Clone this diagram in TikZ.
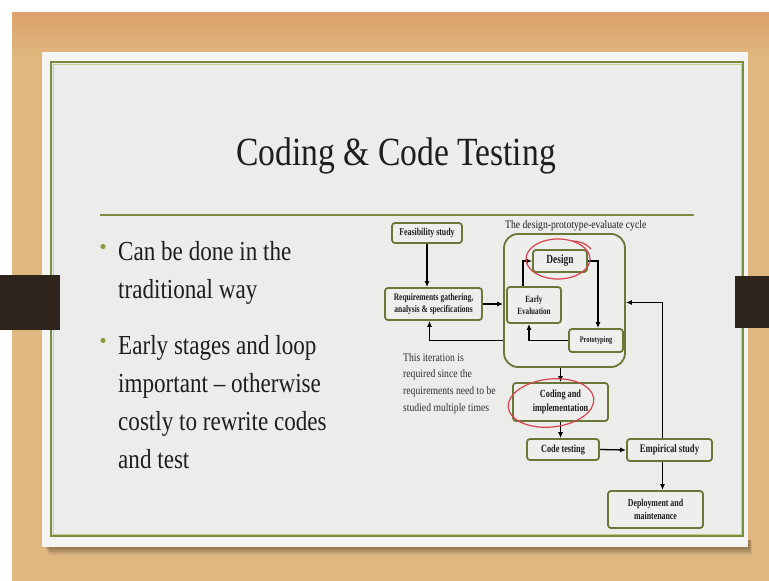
\documentclass[tikz,border=0pt]{standalone}
\usepackage{fontspec}
\setmainfont{Liberation Serif}
\newfontfamily\slidefont[FakeStretch=0.84]{Liberation Serif}
\newfontfamily\boxfont[FakeStretch=0.75]{Liberation Serif}
\usetikzlibrary{arrows.meta,calc}

\definecolor{wood}{RGB}{224,184,127}
\definecolor{woodtop}{RGB}{219,163,107}
\definecolor{slideedge}{RGB}{244,244,243}
\definecolor{slidebg}{RGB}{236,236,234}
\definecolor{frameolive}{RGB}{122,140,62}
\definecolor{framelight}{RGB}{196,208,140}
\definecolor{tabbrown}{RGB}{46,36,28}
\definecolor{boxolive}{RGB}{106,120,55}
\definecolor{boxfill}{RGB}{238,238,236}
\definecolor{inktext}{RGB}{30,30,30}
\definecolor{bulletgreen}{RGB}{132,158,62}
\definecolor{redpen}{RGB}{214,66,78}

\tikzset{
  box/.style={draw=boxolive, line width=1.8pt, rounded corners=3pt, fill=boxfill,
    inner sep=0pt, align=center, text=inktext},
  boxtxt/.style 2 args={font={\boxfont\bfseries\fontsize{#1}{#2}\selectfont}},
  cyclebox/.style={draw=boxolive, line width=1.8pt, rounded corners=14pt, fill=boxfill,
    inner sep=0pt},
  arr/.style={draw=black, line width=1.3pt, -{Latex[length=6pt,width=5pt]}},
  bullettext/.style={anchor=base west, inner sep=0pt, text=inktext,
    font={\slidefont\fontsize{27.5}{38}\selectfont}},
  notetext/.style={anchor=base west, inner sep=0pt, text=inktext!92,
    font={\slidefont\fontsize{11.5}{16}\selectfont}},
  pen/.style={draw=redpen, line width=1.2pt}
}

\begin{document}
\begin{tikzpicture}[x=1pt,y=-1pt]
\useasboundingbox (0,0) rectangle (769,581);

% wooden desk behind the slide
\fill[white] (0,0) rectangle (769,581);
\fill[wood] (12,12) rectangle (769,581);
\shade[top color=woodtop, bottom color=wood] (12,12) rectangle (769,60);

% soft shadow under the slide
\foreach \i in {1,...,5}
  \fill[black, opacity=0.07] (44+\i,540) rectangle (749+0.6*\i,547+1.6*\i);

% slide face and its double frame
\fill[slideedge] (42,52) rectangle (748,547);
\fill[slidebg] (51,62) rectangle (743,536);
\draw[frameolive, line width=2pt] (51,62) rectangle (743,536);
\draw[framelight, line width=0.7pt] (53,64) rectangle (741,534);

% binder clips on the sides
\fill[tabbrown] (0,275) rectangle (60,330);
\fill[tabbrown] (735,276) rectangle (769,328);

% title and rule
\node[anchor=base, inner sep=0pt, text=inktext,
      font={\slidefont\fontsize{40}{44}\selectfont}] (title) at (396,165) {Coding \& Code Testing};
\draw[frameolive, line width=1.3pt] (100,215) -- (694,215);

% bullet list
\fill[bulletgreen] (103,246.5) circle (2.6);
\node[bullettext] (b1a) at (118,260) {Can be done in the};
\node[bullettext] (b1b) at (118,298) {traditional way};
\fill[bulletgreen] (103,340.5) circle (2.6);
\node[bullettext] (b2a) at (118,354) {Early stages and loop};
\node[bullettext] (b2b) at (118,392) {important – otherwise};
\node[bullettext] (b2c) at (118,430) {costly to rewrite codes};
\node[bullettext] (b2d) at (118,468) {and test};

% process diagram
\node[anchor=base west, inner sep=0pt, text=inktext,
      font={\slidefont\fontsize{11.5}{13}\selectfont}] (cyclelabel) at (505,228)
      {The design-prototype-evaluate cycle};
\node[cyclebox, minimum width=121, minimum height=133] (cycle) at (564.5,300.5) {};

\node[box, boxtxt={10.5}{12}, minimum width=70, minimum height=20] (feas) at (427,233) {Feasibility study};
\node[box, boxtxt={10}{11.5}, minimum width=97, minimum height=32] (req) at (433.5,304)
  {Requirements gathering,\\analysis \& specifications};
\node[box, boxtxt={12.5}{14}, minimum width=54, minimum height=22] (design) at (560,261) {Design};
\node[box, boxtxt={9.5}{12}, minimum width=54, minimum height=36] (early) at (534,305) {Early\\Evaluation};
\node[box, boxtxt={8.5}{10}, minimum width=54, minimum height=23] (proto) at (596,340.5) {Prototyping};
\node[box, boxtxt={11}{14}, minimum width=95, minimum height=38] (coding) at (560.5,402)
  {Coding and\\implementation};
\node[box, boxtxt={11}{13}, minimum width=72, minimum height=21] (test) at (563,449.5) {Code testing};
\node[box, boxtxt={11.5}{13}, minimum width=85, minimum height=22] (emp) at (669.5,450) {Empirical study};
\node[box, boxtxt={10.5}{13}, minimum width=95, minimum height=37] (deploy) at (655.5,509.5)
  {Deployment and\\maintenance};

\node[notetext] (n1) at (403,361) {This iteration is};
\node[notetext] (n2) at (403,377.7) {required since the};
\node[notetext] (n3) at (403,394.4) {requirements need to be};
\node[notetext] (n4) at (403,411) {studied multiple times};

% connector anchor points off the box centres
\coordinate (reqin) at ($(req.south)+(-4,0)$);
\coordinate (earlyout) at ($(early.north)+(-11,0)$);
\coordinate (protoin) at ($(proto.north)+(2,0)$);
\coordinate (earlyin) at ($(early.south)+(-5,0)$);
\coordinate (empbot) at ($(emp.south)+(-7,0)$);
\coordinate (emptop) at ($(emp.north)+(-7,0)$);
\coordinate (cyclein) at ($(cycle.east)+(0,2)$);

% connectors
\draw[arr] (feas.south) -- (feas.south |- req.north);
\draw[arr] (req.east) -- (req.east -| cycle.west);
\draw[arr] (cycle.west |- proto.west) -| (reqin);
\draw[arr] (earlyout) |- (design.west);
\draw[arr] (design.east) -| (protoin);
\draw[arr] (proto.west) -| (earlyin);
\draw[arr] (coding.north |- cycle.south) -- (coding.north);
\draw[arr] (coding.south) -- (coding.south |- test.north);
\draw[arr] (test.east) -- (emp.west);
\draw[arr] (empbot) -- (empbot |- deploy.north);
\draw[arr] (emptop) |- (cyclein);

% hand-drawn red marks
\draw[pen] (558,259) ellipse [x radius=32, y radius=20];
\draw[pen] (572,241) .. controls (580,241) and (587,244) .. (591,249);
\draw[pen, rotate around={6:(551,403)}] (551,403) ellipse [x radius=43, y radius=24];
\end{tikzpicture}
\end{document}
